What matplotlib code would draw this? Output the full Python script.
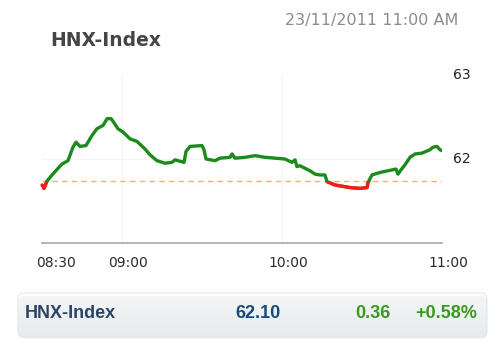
import matplotlib
matplotlib.use("Agg")
import matplotlib.pyplot as plt
import matplotlib.transforms as mtransforms
import numpy as np
from matplotlib.patches import FancyBboxPatch, Rectangle

# minutes after 08:30 and index value
MINUTES = [0, 0.75, 1.9, 4.9, 7.5, 9.75, 11.6, 12.75, 14.25, 16.5, 18.75, 20.6,
           22.9, 24.4, 25.9, 26.6, 28.5, 30.4, 33, 35.6, 38.6, 40.5, 43.1, 46.1,
           48.75, 49.9, 53.25, 54, 55.5, 60, 60.75, 61.5, 64.9, 66.75, 70.5,
           71.25, 72.4, 76.1, 79.9, 83.6, 87.4, 91.1, 93.75, 94.9, 95.6, 96.75,
           98.6, 100.5, 102.4, 104.25, 106.1, 106.9, 109.9, 113.6, 115.5, 119.25,
           121.9, 122.25, 123.75, 126.75, 131.25, 132.75, 133.5, 134.6, 136.1,
           138, 139.9, 142.5, 145.5, 146.6, 148.1, 149.25, 150]
VALUES = [61.69, 61.65, 61.74, 61.85, 61.94, 61.98, 62.14, 62.20, 62.15, 62.16,
          62.28, 62.36, 62.40, 62.48, 62.48, 62.45, 62.36, 62.32, 62.24, 62.21,
          62.12, 62.05, 61.98, 61.95, 61.96, 61.99, 61.96, 62.09, 62.15, 62.16,
          62.11, 62.00, 61.98, 62.01, 62.02, 62.06, 62.01, 62.02, 62.04, 62.02,
          62.01, 62.00, 61.96, 61.99, 61.91, 61.92, 61.89, 61.86, 61.82, 61.81,
          61.81, 61.73, 61.69, 61.67, 61.66, 61.65, 61.66, 61.72, 61.81, 61.84,
          61.87, 61.88, 61.82, 61.87, 61.93, 62.02, 62.06, 62.07, 62.11, 62.14,
          62.15, 62.11, 62.10]
PREV_CLOSE = 61.74

TICK_MINUTES = [0, 30, 90, 150]
TICK_LABELS = ["08:30", "09:00", "10:00", "11:00"]
Y_TICKS = [62, 63]

SUMMARY_NAME = "HNX-Index"
SUMMARY_LAST = "62.10"
SUMMARY_CHANGE = "0.36"
SUMMARY_PCT = "+0.58%"

GREEN = "#1c8a1c"
RED = "#ff1a1a"


def main() -> None:
    fig = plt.figure(figsize=(5.0, 3.57), dpi=100)
    fig.patch.set_facecolor("white")

    W, H = 500.0, 357.0
    ax = fig.add_axes([42 / W, (H - 243) / H, 400 / W, 168 / H])
    ax.set_xlim(0, 150)
    ax.set_ylim(61, 63)
    for side in ("top", "left", "right"):
        ax.spines[side].set_visible(False)
    ax.spines["bottom"].set_color("#a8a8a8")
    ax.spines["bottom"].set_linewidth(1.2)
    ax.set_xticks([])
    ax.set_yticks([])

    # faint grid
    for m in (30, 90):
        ax.axvline(m, color="#f2f2f2", lw=0.8, zorder=0)
    ax.axhline(62, color="#f5f5f5", lw=0.8, zorder=0)

    ax.axhline(PREV_CLOSE, color="#f4b070", lw=1.0, ls=(0, (4, 3)), zorder=1)

    ax.plot(MINUTES, VALUES, color=GREEN, lw=2.4, solid_joinstyle="round",
            solid_capstyle="round", zorder=3)
    red, = ax.plot(MINUTES, VALUES, color=RED, lw=2.4, solid_joinstyle="round",
                   solid_capstyle="round", zorder=4)
    clip = Rectangle((-10, 60), 170, PREV_CLOSE - 60, transform=ax.transData)
    red.set_clip_path(clip)

    # x tick labels, nudged right like the original
    tr = mtransforms.blended_transform_factory(ax.transData, fig.transFigure)
    for m, lab in zip(TICK_MINUTES, TICK_LABELS):
        dx = 14 if m == 0 else 6
        off = mtransforms.ScaledTranslation(dx / 100, 0, fig.dpi_scale_trans)
        ax.text(m, (H - 263) / H, lab, transform=tr + off, ha="center",
                va="center", fontsize=10, color="#2a2a2a")

    ytr = mtransforms.blended_transform_factory(fig.transFigure, ax.transData)
    for v in Y_TICKS:
        ax.text(462 / W, v, str(v), transform=ytr, ha="center", va="center",
                fontsize=10, color="#222222")

    fig.text(50 / W, (H - 40) / H, "HNX-Index", fontsize=13.5, fontweight="bold",
             color="#454545", ha="left", va="center")
    fig.text(458 / W, (H - 20) / H, "23/11/2011 11:00 AM", fontsize=11.5,
             color="#8c8c8c", ha="right", va="center")

    # summary bar
    bx = fig.add_axes([0, 0, 1, 1], zorder=-1)
    bx.axis("off")
    shadow = FancyBboxPatch((19, 296), 468, 43, boxstyle="round,pad=0,rounding_size=6",
                            facecolor="#eceff1", edgecolor="none", alpha=0.6)
    bx.add_patch(shadow)
    box = FancyBboxPatch((18, 293), 469, 44, boxstyle="round,pad=0,rounding_size=6",
                         facecolor="none", edgecolor="#e2e6ea", lw=0.8)
    bx.add_patch(box)
    grad = np.linspace(0, 1, 64).reshape(-1, 1)
    img = bx.imshow(grad, extent=(18, 487, 337, 293), origin="upper", aspect="auto",
                    cmap=matplotlib.colors.LinearSegmentedColormap.from_list(
                        "bar", ["#ffffff", "#f1f4f6", "#e2e7eb"]))
    img.set_clip_path(box)
    bx.set_xlim(0, W)
    bx.set_ylim(H, 0)

    ty = 313
    bx.text(25, ty, SUMMARY_NAME, fontsize=13, fontweight="bold", color="#2b4466",
            family="Liberation Sans", ha="left", va="center")
    bx.text(258, ty, SUMMARY_LAST, fontsize=13, fontweight="bold", color="#1a4a78",
            family="Liberation Sans", ha="center", va="center")
    bx.text(373, ty, SUMMARY_CHANGE, fontsize=13, fontweight="bold", color="#3a9a1c",
            family="Liberation Sans", ha="center", va="center")
    bx.text(477, ty, SUMMARY_PCT, fontsize=13, fontweight="bold", color="#3a9a1c",
            family="Liberation Sans", ha="right", va="center")

    fig.savefig("out.png", dpi=100, facecolor="white")


main() if __name__ == "__main__" else None
